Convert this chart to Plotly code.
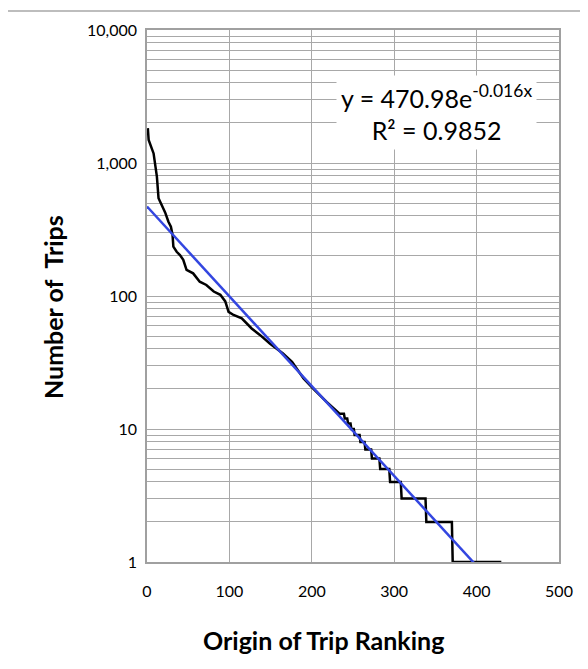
import plotly.graph_objects as go

# Ranked origins: first and last rank of each plateau where needed
rank = [1, 2, 8, 12, 14, 18, 22, 26, 29, 31, 32, 36, 40, 44, 48, 56, 64, 72, 81, 89, 95,
        99, 105, 115, 127, 137, 149, 165, 176, 190, 202, 218, 234, 239, 240, 243, 244, 247,
        248, 251, 252, 258, 259, 264, 265, 272, 273, 282, 283, 294, 295, 308, 309, 338,
        339, 370, 371, 430]
trips = [1830, 1490, 1180, 790, 543, 484, 425, 362, 332, 288, 235, 215, 203, 187, 157, 148,
         128, 121, 108, 102, 91, 76, 72, 68, 57, 51, 44, 37, 32, 24, 20, 16, 13, 13, 12, 12,
         11, 11, 10, 10, 9, 9, 8, 8, 7, 7, 6, 6, 5, 5, 4, 4, 3, 3, 2, 2, 1, 1]

# Exponential trendline parameters (as fitted)
trend_a = 470.98
trend_k = 0.01555
trend_x = [0, 430]
trend_y = [trend_a * 2.718281828459045 ** (-trend_k * x) for x in trend_x]

x_ticks = [0, 100, 200, 300, 400, 500]
y_major = [1, 10, 100, 1000, 10000]
y_major_text = ["1", "10", "100", "1,000", "10,000"]
y_minor = [d * m for d in y_major[:-1] for m in range(2, 10)]

FONT = "Lato"
GRID = "#a8a8a8"

# page body has an 8px margin: plot area lands at x 147..559, y 30..562
OFF = 8
ML, MT = 147 - OFF, 30 - OFF
MR, MB = 588 - 559 + OFF, 669 - 562 + OFF

fig = go.Figure()
fig.add_trace(go.Scatter(x=rank, y=trips, mode="lines",
                         line=dict(color="black", width=2.5), showlegend=False))
fig.add_trace(go.Scatter(x=trend_x, y=trend_y, mode="lines",
                         line=dict(color="#3346e0", width=2.5), showlegend=False))

fig.update_layout(
    width=588, height=669,
    margin=dict(l=ML, r=MR, t=MT, b=MB),
    paper_bgcolor="white", plot_bgcolor="white",
    font=dict(family=FONT, color="black"),
    showlegend=False,
)
fig.update_xaxes(range=[0, 500], tickvals=x_ticks, ticktext=[str(v) for v in x_ticks],
                 showgrid=True, gridcolor=GRID, gridwidth=1, zeroline=False,
                 showline=True, linecolor="#a0a0a0", linewidth=1.5, mirror=True,
                 ticks="outside", ticklen=14, tickcolor="rgba(0,0,0,0)",
                 tickfont=dict(size=16, family=FONT))
fig.update_yaxes(type="log", range=[0, 4], tickvals=y_major, ticktext=y_major_text,
                 showgrid=True, gridcolor=GRID, gridwidth=1, zeroline=False,
                 minor=dict(tickvals=y_minor, showgrid=True, gridcolor=GRID, gridwidth=1,
                            ticks=""),
                 showline=True, linecolor="#a0a0a0", linewidth=1.5, mirror=True,
                 ticks="outside", ticklen=5, tickcolor="rgba(0,0,0,0)",
                 tickfont=dict(size=16, family=FONT))

# axis titles
fig.add_annotation(text="<b>Origin of Trip Ranking</b>", xref="paper", yref="paper",
                   x=(323 - 147) / 412, y=(562 - 640) / 532, showarrow=False,
                   font=dict(size=25, family=FONT), xanchor="center", yanchor="middle")
fig.add_annotation(text="<b>Number of  Trips</b>", xref="paper", yref="paper",
                   x=(53 - 147) / 412, y=(562 - 307) / 532, showarrow=False, textangle=-90,
                   font=dict(size=25, family=FONT), xanchor="center", yanchor="middle")

# trendline equation box
fig.add_annotation(text="y = 470.98e<sup>-0.016x</sup><br>R² = 0.9852",
                   xref="paper", yref="paper", x=(436 - 147) / 412, y=(562 - 113) / 532,
                   showarrow=False, align="center", bgcolor="white", borderpad=4,
                   font=dict(size=25, family=FONT, color="black"),
                   xanchor="center", yanchor="middle")

# outer chart border
fig.add_shape(type="rect", xref="paper", yref="paper",
              x0=(7 - 147) / 412, x1=(600 - 147) / 412,
              y0=(562 - 690) / 532, y1=1 + (30 - 11) / 532,
              line=dict(color="#a8a8a8", width=1.5), layer="below")

fig.write_html("out.html")
